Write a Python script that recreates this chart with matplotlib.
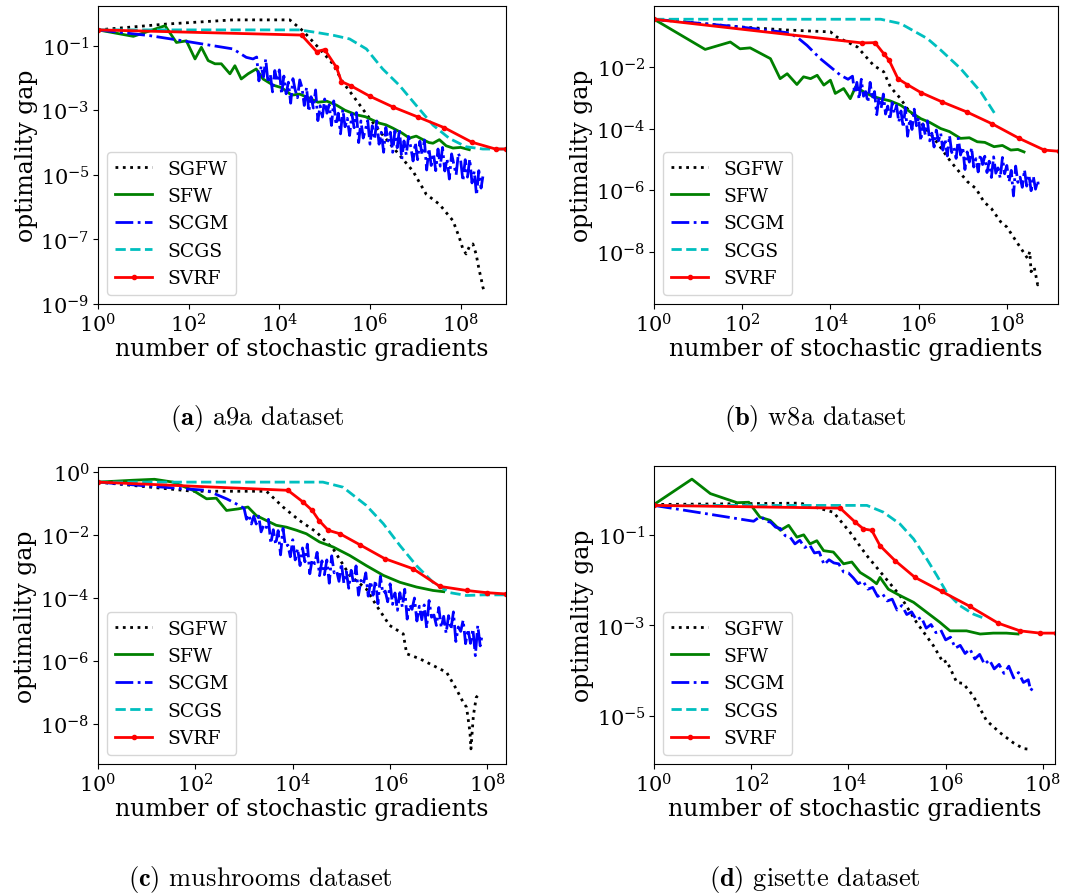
import numpy as np
import matplotlib
matplotlib.use("Agg")
import matplotlib.pyplot as plt
from matplotlib.ticker import FixedLocator, NullLocator

# all values as log10 exponents
# x = log10(number of stochastic gradients), y = log10(optimality gap)

METHODS = ["SGFW", "SFW", "SCGM", "SCGS", "SVRF"]

# ---------------- (a) a9a ----------------
A9A_SGFW_X = [0, 1.5, 2.98, 4.23, 4.52, 4.89, 5.18, 5.4, 5.62, 5.99, 6.3, 6.58, 6.95, 7.24, 7.38, 7.53,
              7.7, 7.83, 7.97, 8.05, 8.12, 8.2, 8.27, 8.34, 8.41, 8.45, 8.49, 8.52]
A9A_SGFW_Y = [-0.51, -0.33, -0.2, -0.2, -0.54, -1.1, -1.56, -2.13, -2.54, -3.25, -3.8, -4.27, -4.89, -5.6,
              -5.75, -5.91, -6.2, -6.42, -6.94, -7.3, -7.45, -7.2, -7.14, -7.45, -7.96, -8.2, -8.48, -8.6]
A9A_SFW_X = [0, 0.78, 1.48, 1.73, 1.95, 2.14, 2.28, 2.43, 2.58, 2.72, 2.91, 3.02, 3.16, 3.31, 3.49, 3.64,
             3.86, 4.05, 4.27, 4.45, 4.67, 4.85, 5.05, 5.26, 5.45, 5.7, 5.9, 6.05, 6.21, 6.35, 6.5, 6.7,
             6.87, 7.02, 7.17, 7.3, 7.39, 7.53, 7.68, 7.83, 8.0, 8.19]
A9A_SFW_Y = [-0.51, -0.71, -0.38, -0.9, -0.85, -1.41, -1.05, -1.46, -1.56, -1.56, -1.87, -1.62, -2.03, -1.87,
             -1.72, -2.03, -2.22, -2.3, -2.53, -2.5, -2.63, -2.75, -2.72, -2.84, -3.0, -3.14, -3.2, -3.3,
             -3.4, -3.45, -3.55, -3.7, -3.86, -3.8, -3.91, -4.0, -4.02, -3.91, -4.1, -4.17, -4.15, -4.22]
A9A_SCGM_X = [0, 1.15, 1.88, 2.98, 3.27, 3.42,
              3.5, 3.55, 3.6, 3.65, 3.7, 3.75, 3.8, 3.85, 3.9, 3.95, 4.0, 4.05, 4.1, 4.15, 4.2, 4.25,
              4.3, 4.35, 4.4, 4.45, 4.5, 4.55, 4.6, 4.65, 4.7, 4.75, 4.8, 4.85, 4.9, 4.95, 5.0, 5.05,
              5.1, 5.15, 5.2, 5.25, 5.3, 5.35, 5.4, 5.45, 5.5, 5.55, 5.6, 5.65, 5.7, 5.75, 5.8, 5.85,
              5.9, 5.95, 6.0, 6.05, 6.1, 6.15, 6.2, 6.25, 6.3, 6.35, 6.4, 6.45, 6.5, 6.55, 6.6, 6.65,
              6.7, 6.75, 6.8, 6.85, 6.9, 6.95, 7.0, 7.05, 7.1, 7.15, 7.2, 7.25, 7.3, 7.35, 7.4, 7.45,
              7.5, 7.55, 7.6, 7.65, 7.7, 7.75, 7.8, 7.85, 7.9, 7.95, 8.0, 8.05, 8.1, 8.15, 8.2, 8.25,
              8.3, 8.35, 8.4, 8.45, 8.49]
A9A_SCGM_Y = [-0.51, -0.69, -0.85, -1.1, -1.36, -1.41,
              -1.35, -2.09, -1.63, -1.97, -1.41, -2.15, -1.89, -2.43, -1.77, -2.11, -1.75, -2.5, -1.94,
              -2.49, -2.13, -2.78, -2.02, -2.37, -2.61, -2.06, -2.3, -2.85, -2.29, -3.04, -2.58, -2.93,
              -2.37, -3.32, -2.86, -3.21, -2.65, -3.09, -2.83, -3.47, -2.71, -3.45, -3.09, -3.73, -2.97,
              -3.51, -3.25, -3.78, -3.11, -3.54, -3.07, -4.0, -3.33, -3.86, -3.59, -3.32, -4.05, -3.48,
              -3.9, -3.33, -4.05, -3.68, -4.3, -3.53, -3.95, -3.68, -4.3, -3.63, -4.16, -3.59, -4.52,
              -3.95, -4.38, -3.81, -4.14, -4.57, -4.0, -4.53, -3.96, -4.39, -3.92, -4.85, -4.18, -4.71,
              -4.34, -4.87, -4.2, -4.73, -4.15, -4.88, -4.5, -5.13, -4.35, -4.68, -5.0, -4.33, -4.55,
              -5.19, -4.53, -5.07, -4.51, -5.25, -4.89, -5.63, -4.87, -5.41, -5.05]
A9A_SCGS_X = [0, 4.45, 4.82, 5.2, 5.55, 5.92, 6.28, 6.65, 7.02, 7.39, 7.75, 8.12, 8.49, 9.0]
A9A_SCGS_Y = [-0.51, -0.51, -0.59, -0.68, -0.79, -1.1, -1.72, -2.23, -2.85, -3.46, -3.87, -4.13, -4.2, -4.2]
A9A_SVRF_X = [0, 4.49, 4.82, 5.0, 5.26, 5.37, 5.59, 5.99, 6.51, 7.06, 7.64, 8.25, 8.77, 9.0]
A9A_SVRF_Y = [-0.51, -0.67, -1.18, -1.12, -1.67, -2.11, -2.25, -2.56, -2.9, -3.21, -3.54, -3.99, -4.2, -4.2]

# ---------------- (b) w8a ----------------
W8A_SGFW_X = [0, 1.95, 3.0, 4.0, 4.15, 4.61, 4.98, 5.21, 5.36, 5.59, 5.74, 5.97, 6.35, 6.73, 7.11, 7.3,
              7.48, 7.65, 7.86, 8.0, 8.17, 8.3, 8.47, 8.52, 8.55, 8.62, 8.7, 8.72]
W8A_SGFW_Y = [-0.45, -0.7, -0.8, -0.86, -1.03, -1.35, -1.95, -2.16, -2.65, -3.03, -3.35, -3.68, -4.32, -5.08,
              -5.73, -5.95, -6.38, -6.6, -7.03, -7.2, -7.57, -7.85, -8.22, -8.0, -8.65, -8.5, -9.08, -9.0]
W8A_SFW_X = [0, 1.16, 1.73, 1.95, 2.18, 2.64, 2.86, 3.02, 3.24, 3.39, 3.55, 3.7, 3.85, 4.0, 4.11, 4.3, 4.45,
             4.57, 4.76, 4.95, 5.14, 5.35, 5.59, 5.8, 6.05, 6.25, 6.5, 6.7, 6.95, 7.15, 7.33, 7.5, 7.71,
             7.9, 8.09, 8.25, 8.39]
W8A_SFW_Y = [-0.45, -1.43, -1.19, -1.41, -1.38, -1.73, -2.38, -2.22, -2.57, -2.32, -2.38, -2.27, -2.59,
             -2.43, -2.86, -2.7, -3.03, -2.65, -2.81, -2.95, -3.03, -3.1, -3.24, -3.45, -3.68, -3.8, -4.0,
             -4.1, -4.32, -4.3, -4.43, -4.45, -4.59, -4.55, -4.7, -4.68, -4.76]
W8A_SCGM_X = [0, 1.95, 3.09, 3.3, 3.47, 3.77, 4.0, 4.23, 4.4,
              4.5, 4.55, 4.6, 4.65, 4.7, 4.75, 4.8, 4.85, 4.9, 4.95, 5.0, 5.05, 5.1, 5.15, 5.2, 5.25,
              5.3, 5.35, 5.4, 5.45, 5.5, 5.55, 5.6, 5.65, 5.7, 5.75, 5.8, 5.85, 5.9, 5.95, 6.0, 6.05,
              6.1, 6.15, 6.2, 6.25, 6.3, 6.35, 6.4, 6.45, 6.5, 6.55, 6.6, 6.65, 6.7, 6.75, 6.8, 6.85,
              6.9, 6.95, 7.0, 7.05, 7.1, 7.15, 7.2, 7.25, 7.3, 7.35, 7.4, 7.45, 7.5, 7.55, 7.6, 7.65,
              7.7, 7.75, 7.8, 7.85, 7.9, 7.95, 8.0, 8.05, 8.1, 8.15, 8.2, 8.25, 8.3, 8.35, 8.4, 8.45,
              8.5, 8.55, 8.6, 8.65, 8.7, 8.72]
W8A_SCGM_Y = [-0.45, -0.7, -0.9, -1.1, -1.3, -1.73, -2.0, -2.27, -2.4,
              -2.3, -2.85, -2.5, -3.05, -2.4, -2.95, -2.8, -3.15, -2.5, -3.05, -2.8, -3.55, -2.99, -3.34,
              -2.88, -3.53, -3.27, -3.72, -3.16, -3.51, -3.25, -3.79, -3.43, -3.97, -3.31, -4.25, -3.69,
              -4.03, -3.37, -3.91, -3.65, -4.4, -3.85, -4.2, -3.75, -4.4, -4.15, -4.6, -4.05, -4.4,
              -4.15, -4.7, -4.34, -4.89, -4.23, -4.78, -4.62, -4.97, -4.31, -4.86, -4.6, -5.33, -4.76,
              -5.09, -4.62, -5.25, -4.98, -5.41, -4.84, -5.17, -4.9, -5.43, -5.06, -5.59, -4.92, -5.45,
              -5.28, -5.61, -4.94, -5.47, -5.2, -5.73, -5.36, -6.19, -5.22, -5.75, -5.58, -5.91, -5.34,
              -5.87, -5.5, -6.02, -5.55, -5.97, -5.69, -5.9]
W8A_SCGS_X = [0, 5.14, 5.59, 6.2, 6.5, 6.95, 7.41, 7.72]
W8A_SCGS_Y = [-0.45, -0.45, -0.59, -1.08, -1.45, -2.05, -2.81, -3.5]
W8A_SVRF_X = [0, 4.72, 5.01, 5.21, 5.33, 5.53, 5.74, 6.05, 6.54, 7.09, 7.67, 8.28, 8.85, 9.19]
W8A_SVRF_Y = [-0.45, -1.22, -1.21, -1.57, -1.78, -2.38, -2.57, -2.83, -3.14, -3.46, -3.85, -4.32, -4.7, -4.74]

# ---------------- (c) mushrooms ----------------
MUSH_SGFW_X = [0, 1.95, 3.46, 3.8, 4.14, 4.49, 4.83, 5.17, 5.51, 5.72, 5.99, 6.27, 6.34, 6.61, 6.88, 7.16,
               7.36, 7.5, 7.57, 7.64, 7.66, 7.71, 7.77, 7.84]
MUSH_SGFW_Y = [-0.32, -0.61, -0.61, -1.11, -1.54, -1.91, -2.44, -3.28, -3.71, -4.24, -4.87, -5.14, -5.77,
               -5.93, -6.14, -6.36, -6.89, -7.31, -7.47, -8.26, -8.79, -7.73, -7.15, -7.04]
MUSH_SFW_X = [0, 0.72, 1.16, 1.54, 1.95, 2.23, 2.43, 2.64, 2.88, 3.08, 3.25, 3.46, 3.66, 3.87, 4.08, 4.28,
              4.55, 4.83, 5.17, 5.51, 5.86, 6.2, 6.54, 6.88, 7.1]
MUSH_SFW_Y = [-0.32, -0.26, -0.23, -0.32, -0.58, -0.85, -0.83, -1.22, -1.17, -1.11, -1.38, -1.54, -1.69,
              -1.75, -1.85, -1.96, -2.22, -2.38, -2.65, -2.97, -3.28, -3.5, -3.65, -3.76, -3.8]
MUSH_SCGM_X = [0, 1.75, 2.23, 2.64, 2.77,
               3.0, 3.05, 3.1, 3.15, 3.2, 3.25, 3.3, 3.35, 3.4, 3.45, 3.5, 3.55, 3.6, 3.65, 3.7, 3.75,
               3.8, 3.85, 3.9, 3.95, 4.0, 4.05, 4.1, 4.15, 4.2, 4.25, 4.3, 4.35, 4.4, 4.45, 4.5, 4.55,
               4.6, 4.65, 4.7, 4.75, 4.8, 4.85, 4.9, 4.95, 5.0, 5.05, 5.1, 5.15, 5.2, 5.25, 5.3, 5.35,
               5.4, 5.45, 5.5, 5.55, 5.6, 5.65, 5.7, 5.75, 5.8, 5.85, 5.9, 5.95, 6.0, 6.05, 6.1, 6.15,
               6.2, 6.25, 6.3, 6.35, 6.4, 6.45, 6.5, 6.55, 6.6, 6.65, 6.7, 6.75, 6.8, 6.85, 6.9, 6.95,
               7.0, 7.05, 7.1, 7.15, 7.2, 7.25, 7.3, 7.35, 7.4, 7.45, 7.5, 7.55, 7.6, 7.65, 7.7, 7.75,
               7.8, 7.85, 7.88]
MUSH_SCGM_Y = [-0.32, -0.53, -0.58, -0.85, -0.95,
               -1.15, -1.5, -1.35, -1.65, -1.4, -1.65, -1.4, -1.9, -1.7, -1.8, -1.5, -2.27, -1.83, -2.3,
               -1.86, -2.63, -1.79, -2.36, -2.32, -2.69, -2.15, -2.79, -2.43, -2.97, -2.41, -2.85, -2.29,
               -3.23, -2.77, -2.91, -2.55, -3.29, -2.82, -3.26, -2.79, -3.53, -2.66, -3.2, -3.13, -3.47,
               -2.9, -3.53, -3.16, -3.69, -3.12, -3.55, -2.98, -3.91, -3.44, -3.57, -3.2, -3.94, -3.47,
               -3.91, -3.44, -4.18, -3.31, -3.85, -3.78, -4.12, -3.55, -4.2, -3.84, -4.39, -3.83, -4.28,
               -3.72, -4.67, -4.21, -4.36, -4.0, -4.73, -4.26, -4.69, -4.22, -4.95, -4.08, -4.61, -4.54,
               -4.87, -4.3, -4.94, -4.58, -5.12, -4.56, -5.0, -4.44, -5.38, -4.92, -5.06, -4.7, -5.45,
               -4.99, -5.44, -4.98, -5.83, -4.87, -5.52, -5.25]
MUSH_SCGS_X = [0, 4.62, 5.03, 5.51, 5.86, 6.2, 6.54, 6.88, 7.23, 7.57, 7.91, 8.38]
MUSH_SCGS_Y = [-0.32, -0.32, -0.48, -1.06, -1.64, -2.33, -2.97, -3.5, -3.83, -3.92, -3.9, -3.9]
MUSH_SVRF_X = [0, 3.9, 4.21, 4.4, 4.54, 4.73, 4.97, 5.38, 5.89, 6.47, 7.02, 7.57, 7.98, 8.38]
MUSH_SVRF_Y = [-0.32, -0.58, -0.95, -1.22, -1.54, -1.85, -1.96, -2.31, -2.75, -3.07, -3.63, -3.76, -3.83, -3.87]

# ---------------- (d) gisette ----------------
GIS_SGFW_X = [0, 3.01, 3.69, 4.03, 4.38, 4.72, 5.06, 5.4, 5.75, 5.95, 6.02, 6.23, 6.36, 6.57, 6.84, 7.12,
              7.39, 7.6, 7.77]
GIS_SGFW_Y = [-0.33, -0.3, -0.5, -0.94, -1.46, -1.9, -2.34, -2.93, -3.45, -3.82, -3.78, -4.26, -4.28, -4.56,
              -5.1, -5.37, -5.59, -5.72, -5.74]
GIS_SFW_X = [0, 0.78, 1.16, 1.71, 1.95, 2.18, 2.39, 2.6, 2.77, 2.94, 3.08, 3.21, 3.35, 3.49, 3.69, 3.9,
             4.07, 4.24, 4.45, 4.58, 4.65, 4.82, 5.06, 5.34, 5.61, 5.88, 6.09, 6.43, 6.71, 6.98, 7.25, 7.49]
GIS_SFW_Y = [-0.33, 0.23, -0.09, -0.29, -0.28, -0.61, -0.68, -0.9, -0.79, -1.05, -1.0, -1.2, -1.13, -1.35,
             -1.38, -1.64, -1.6, -1.83, -1.97, -2.08, -1.94, -2.2, -2.34, -2.49, -2.71, -2.93, -3.12,
             -3.12, -3.19, -3.17, -3.17, -3.19]
GIS_SCGM_X = [0, 2.05, 2.15, 2.22, 2.3, 2.4, 2.5, 2.6, 2.7, 2.8, 2.9, 3.0, 3.1, 3.2, 3.3, 3.4, 3.5, 3.6,
              3.7, 3.8, 3.9, 4.0, 4.1, 4.2, 4.3, 4.4, 4.5, 4.6, 4.7, 4.8, 4.9, 5.0, 5.1, 5.2, 5.3, 5.4,
              5.5, 5.6, 5.7, 5.8, 5.9, 6.0, 6.1, 6.2, 6.3, 6.4, 6.5, 6.6, 6.7, 6.8, 6.9, 7.0, 7.1, 7.2,
              7.3, 7.4, 7.5, 7.6, 7.7, 7.75, 7.8]
GIS_SCGM_Y = [-0.35, -0.7, -0.62, -0.61, -0.7, -0.72, -0.83, -0.86, -1.02, -1.05, -1.2, -1.12, -1.28,
              -1.22, -1.4, -1.38, -1.66, -1.55, -1.62, -1.64, -1.82, -1.84, -1.95, -2.08, -2.02, -2.2,
              -2.16, -2.36, -2.3, -2.46, -2.42, -2.66, -2.56, -2.76, -2.7, -2.88, -2.82, -3.06, -2.98,
              -3.16, -3.1, -3.32, -3.26, -3.5, -3.44, -3.62, -3.52, -3.74, -3.64, -3.86, -3.76, -3.96,
              -3.86, -4.06, -3.9, -4.16, -4.04, -4.26, -4.2, -4.44, -4.36]
GIS_SCGS_X = [0, 4.38, 4.72, 5.06, 5.34, 5.61, 5.82, 6.02, 6.29, 6.57, 6.81]
GIS_SCGS_Y = [-0.35, -0.35, -0.5, -0.76, -1.09, -1.53, -1.9, -2.27, -2.56, -2.75, -2.85]
GIS_SVRF_X = [0, 3.83, 4.14, 4.31, 4.48, 4.65, 4.96, 5.37, 5.92, 6.5, 7.08, 7.53, 7.94, 8.28]
GIS_SVRF_Y = [-0.35, -0.41, -0.72, -0.87, -0.9, -1.24, -1.57, -1.94, -2.25, -2.58, -2.95, -3.12, -3.17, -3.17]

STYLES = {
    "SGFW": dict(color="k", linestyle=":"),
    "SFW": dict(color="g", linestyle="-"),
    "SCGM": dict(color="b", linestyle="-."),
    "SCGS": dict(color="c", linestyle="--"),
    "SVRF": dict(color="r", linestyle="-", marker=".", markersize=6),
}

W, H = 1066, 895


def rect(l, r, t, b):
    return [l / W, 1 - b / H, (r - l) / W, (b - t) / H]


def plot_panel(fig, box, series, xmax, ylim, yticks):
    ax = fig.add_axes(rect(*box))
    for name, (lx, ly) in zip(METHODS, series):
        ax.plot(10.0 ** np.array(lx), 10.0 ** np.array(ly), label=name, linewidth=2, **STYLES[name])
    ax.set_xscale("log")
    ax.set_yscale("log")
    ax.set_xlim(1, 10.0 ** xmax)
    ax.set_ylim(10.0 ** ylim[0], 10.0 ** ylim[1])
    ax.xaxis.set_major_locator(FixedLocator([1, 1e2, 1e4, 1e6, 1e8]))
    ax.yaxis.set_major_locator(FixedLocator([10.0 ** k for k in yticks]))
    ax.xaxis.set_minor_locator(NullLocator())
    ax.yaxis.set_minor_locator(NullLocator())
    ax.tick_params(labelsize=15, pad=2.5)
    ax.set_xlabel("number of stochastic gradients", fontsize=17, labelpad=1)
    ax.set_ylabel("optimality gap", fontsize=17, labelpad=2)
    ax.legend(loc="lower left", fontsize=13.5)
    return ax


def main():
    plt.rcParams["font.family"] = "DejaVu Serif"
    plt.rcParams["mathtext.fontset"] = "dejavuserif"

    fig = plt.figure(figsize=(W / 100, H / 100), dpi=100)

    plot_panel(fig, (98, 506, 7, 305),
               [(A9A_SGFW_X, A9A_SGFW_Y), (A9A_SFW_X, A9A_SFW_Y), (A9A_SCGM_X, A9A_SCGM_Y),
                (A9A_SCGS_X, A9A_SCGS_Y), (A9A_SVRF_X, A9A_SVRF_Y)],
               9.0, (-9.0, 0.23), [-9, -7, -5, -3, -1])
    plot_panel(fig, (654, 1058, 7, 305),
               [(W8A_SGFW_X, W8A_SGFW_Y), (W8A_SFW_X, W8A_SFW_Y), (W8A_SCGM_X, W8A_SCGM_Y),
                (W8A_SCGS_X, W8A_SCGS_Y), (W8A_SVRF_X, W8A_SVRF_Y)],
               9.16, (-9.7, -0.02), [-8, -6, -4, -2])
    plot_panel(fig, (98, 506, 468, 765),
               [(MUSH_SGFW_X, MUSH_SGFW_Y), (MUSH_SFW_X, MUSH_SFW_Y), (MUSH_SCGM_X, MUSH_SCGM_Y),
                (MUSH_SCGS_X, MUSH_SCGS_Y), (MUSH_SVRF_X, MUSH_SVRF_Y)],
               8.38, (-9.27, 0.16), [0, -2, -4, -6, -8])
    plot_panel(fig, (654, 1055, 467, 765),
               [(GIS_SGFW_X, GIS_SGFW_Y), (GIS_SFW_X, GIS_SFW_Y), (GIS_SCGM_X, GIS_SCGM_Y),
                (GIS_SCGS_X, GIS_SCGS_Y), (GIS_SVRF_X, GIS_SVRF_Y)],
               8.25, (-6.06, 0.52), [-1, -3, -5])

    # sub-figure captions
    captions = [(257, 418, "(a)", "a9a dataset"), (815, 418, "(b)", "w8a dataset"),
                (260, 880, "(c)", "mushrooms dataset"), (815, 880, "(d)", "gisette dataset")]
    for cx, cy, tag, txt in captions:
        fig.text(cx / W, 1 - cy / H, r"$\mathbf{" + tag + "}$ " + txt, ha="center", va="center",
                 family="cmr10", fontsize=19, math_fontfamily="cm")

    fig.savefig("out.png", dpi=100)


if __name__ == "__main__":
    main()
